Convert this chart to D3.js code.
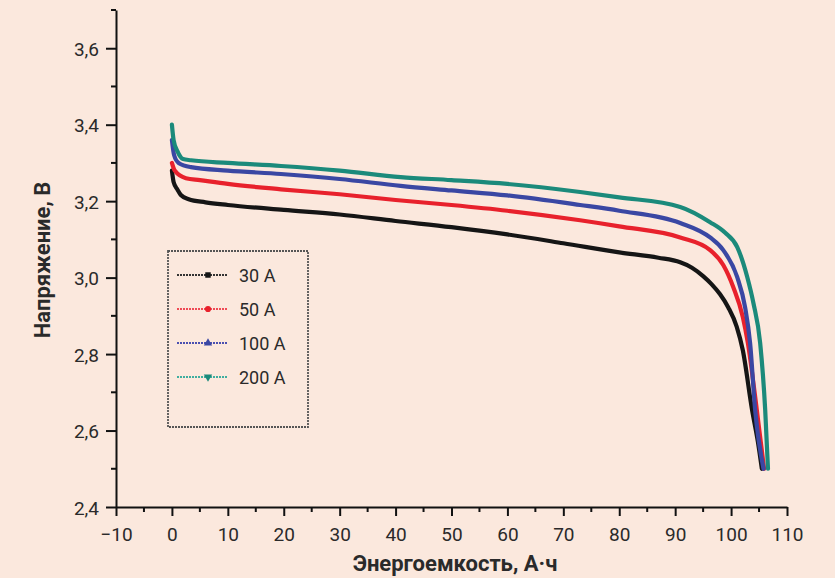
<!DOCTYPE html>
<html>
<head>
  <meta charset="utf-8">
  <script src="https://cdn.jsdelivr.net/npm/d3@7/dist/d3.min.js"></script>
  <style>
    html, body { margin: 0; padding: 0; background: #fbe8dd; overflow: hidden; }
    svg { display: block; }
    text { font-family: Roboto, "DejaVu Sans", sans-serif; fill: #2a2a2a; }
  </style>
</head>
<body>
  <svg width="835" height="578" id="mainsvg"></svg>
  <script>
      // data: capacity (A·h) and voltage (V)
      const series = ['30 A', '50 A', '100 A', '200 A'];
      const colors = ['#151515', '#e8212c', '#3a47a3', '#1b8a7b'];
      const legendColors = ['#333333', '#ef4a55', '#4a4fb0', '#3fae9f'];
      const markers = ['square', 'circle', 'triangleUp', 'triangleDown'];

      const cap30 = [0, 0.3, 1, 1.6, 3, 6, 10, 20, 30, 40, 50, 60, 70, 80, 87, 90.9, 93, 95, 96.5, 98, 99.5, 101, 102.1, 103.75, 104.8, 105.5];
      const volt30 = [3.28, 3.25, 3.23, 3.216, 3.205, 3.197, 3.19, 3.177, 3.165, 3.148, 3.132, 3.113, 3.09, 3.066, 3.052, 3.04, 3.026, 3.004, 2.983, 2.957, 2.922, 2.872, 2.81, 2.654, 2.57, 2.5];

      const cap50 = [0, 0.5, 2.5, 5, 10, 19.5, 30, 40, 50, 60, 73, 80, 90.9, 96.25, 98.6, 100.4, 102.1, 103.0, 104.6, 105.9];
      const volt50 = [3.30, 3.28, 3.26, 3.255, 3.245, 3.231, 3.218, 3.203, 3.19, 3.175, 3.15, 3.134, 3.105, 3.072, 3.033, 2.975, 2.897, 2.829, 2.654, 2.5];

      const cap100 = [0, 0.4, 1.2, 3.4, 10, 19.5, 30, 40.9, 50, 60, 73, 80, 90.9, 96.25, 98.6, 101.1, 102.5, 103.4, 104.3, 105.8];
      const volt100 = [3.36, 3.32, 3.30, 3.289, 3.28, 3.271, 3.258, 3.24, 3.228, 3.215, 3.19, 3.175, 3.143, 3.105, 3.072, 3.001, 2.923, 2.829, 2.654, 2.5];

      const cap200 = [0, 0.3, 1, 2, 3.4, 10, 19.5, 30, 40.9, 50, 60, 73, 80, 90.9, 96.25, 98.9, 101.1, 102.9, 104.0, 105.2, 106.1, 106.6];
      const volt200 = [3.40, 3.36, 3.33, 3.31, 3.307, 3.30, 3.292, 3.28, 3.263, 3.255, 3.245, 3.224, 3.21, 3.185, 3.145, 3.118, 3.08, 3.001, 2.933, 2.829, 2.654, 2.5];

      const xTicks = d3.range(-10, 111, 10);
      const yTicks = [2.4, 2.6, 2.8, 3.0, 3.2, 3.4, 3.6];
      const xMinor = d3.range(-5, 110, 10);
      const yMinor = [2.5, 2.7, 2.9, 3.1, 3.3, 3.5, 3.7];

      const svg = d3.select('svg');
      const margin = {top: 10, right: 48, bottom: 71, left: 116};
      const width = +svg.attr('width'), height = +svg.attr('height');
      const innerWidth = width - margin.left - margin.right;
      const innerHeight = height - margin.top - margin.bottom;
      const g = svg.append('g').attr('transform', `translate(${margin.left}, ${margin.top})`);

      const xScale = d3.scaleLinear().domain([-10, 110]).range([0, innerWidth]);
      const yScale = d3.scaleLinear().domain([2.4, 3.7]).range([innerHeight, 0]);

      const fmt = d3.format('.1f');

      // minor ticks (no labels)
      g.append('g').selectAll('line').data(xMinor).join('line')
        .attr('x1', d => xScale(d)).attr('x2', d => xScale(d))
        .attr('y1', innerHeight).attr('y2', innerHeight + 5)
        .attr('stroke', '#111').attr('stroke-width', 2);
      g.append('g').selectAll('line').data(yMinor).join('line')
        .attr('y1', d => yScale(d)).attr('y2', d => yScale(d))
        .attr('x1', 0).attr('x2', -5)
        .attr('stroke', '#111').attr('stroke-width', 2);

      const xAxis = g.append('g').attr('transform', `translate(0, ${innerHeight})`)
        .call(d3.axisBottom(xScale).tickValues(xTicks).tickSize(9).tickSizeOuter(0)
          .tickFormat(d => d < 0 ? '\u2212' + Math.abs(d) : d));
      const yAxis = g.append('g')
        .call(d3.axisLeft(yScale).tickValues(yTicks).tickSize(10).tickSizeOuter(0).tickPadding(7)
          .tickFormat(d => fmt(d).replace('.', ',')));

      [xAxis, yAxis].forEach(a => {
          a.select('.domain').attr('stroke', '#111').attr('stroke-width', 2);
          a.selectAll('.tick line').attr('stroke', '#111').attr('stroke-width', 2);
          a.selectAll('.tick text').attr('font-size', '19px').attr('fill', '#2a2a2a')
            .attr('font-family', 'Roboto, sans-serif');
      });
      // plain baselines for the labels
      xAxis.selectAll('.tick text').attr('dy', null).attr('y', 34);
      yAxis.selectAll('.tick text').attr('dy', null).attr('y', 7);

      // axis titles
      svg.append('text').text('Энергоемкость, А·ч')
        .attr('x', 455).attr('y', 571).attr('text-anchor', 'middle')
        .attr('font-size', '22px').attr('font-weight', 'bold');
      svg.append('text').text('Напряжение, В')
        .attr('transform', 'translate(50, 260) rotate(-90)').attr('text-anchor', 'middle')
        .attr('font-size', '22px').attr('font-weight', 'bold');

      // curves
      const dataSets = [
          d3.zip(cap30, volt30), d3.zip(cap50, volt50),
          d3.zip(cap100, volt100), d3.zip(cap200, volt200)
      ];
      const line = d3.line()
        .x(d => xScale(d[0])).y(d => yScale(d[1]))
        .curve(d3.curveMonotoneX);
      g.selectAll('.curve').data(dataSets).join('path').attr('class', 'curve')
        .attr('d', line).attr('fill', 'none')
        .attr('stroke', (d, i) => colors[i]).attr('stroke-width', 4.2)
        .attr('stroke-linejoin', 'round').attr('stroke-linecap', 'round');

      // legend
      const legend = svg.append('g').attr('transform', 'translate(168, 251)');
      legend.append('rect').attr('width', 140).attr('height', 176)
        .attr('fill', 'none').attr('stroke', '#555').attr('stroke-width', 1.8)
        .attr('stroke-dasharray', '2,1');
      const symbolTypes = {
          square: d3.symbolSquare, circle: d3.symbolCircle,
          triangleUp: d3.symbolTriangle, triangleDown: d3.symbolTriangle
      };
      const items = legend.selectAll('.item').data(series).join('g').attr('class', 'item')
        .attr('transform', (d, i) => `translate(0, ${24 + i * 34})`);
      items.append('line').attr('x1', 9).attr('x2', 60).attr('y1', 0).attr('y2', 0)
        .attr('stroke', (d, i) => legendColors[i]).attr('stroke-width', 2)
        .attr('stroke-dasharray', '2,1');
      items.append('path')
        .attr('d', (d, i) => d3.symbol().type(symbolTypes[markers[i]]).size(30)())
        .attr('transform', (d, i) => `translate(40, 0)` + (markers[i] === 'triangleDown' ? ' rotate(180)' : ''))
        .attr('fill', (d, i) => colors[i]);
      items.append('text').text(d => d).attr('x', 71).attr('y', 7)
        .attr('font-size', '18px');
  </script>
</body>
</html>
